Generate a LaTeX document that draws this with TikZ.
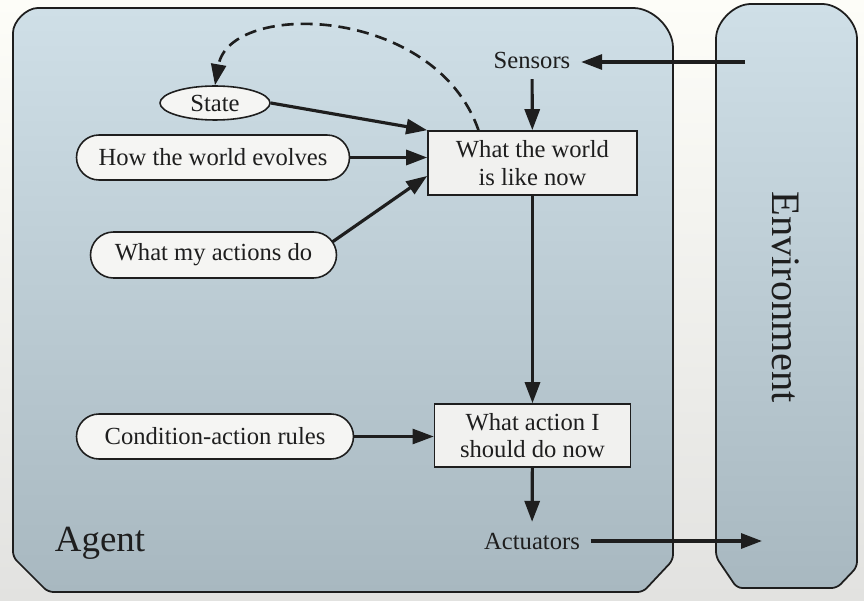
\documentclass[tikz,border=0pt]{standalone}
\usepackage{fontspec}
\setmainfont{Liberation Serif}
\usetikzlibrary{arrows.meta,shapes.geometric,shapes.misc}
\definecolor{bgtop}{HTML}{FDFDF8}
\definecolor{bgbottom}{HTML}{E2E2E0}
\definecolor{agenttop}{HTML}{CFDFE7}
\definecolor{agentmid}{HTML}{C3D3DC}
\definecolor{agentbottom}{HTML}{A8B8C0}
\definecolor{pillgray}{HTML}{F5F5F3}
\definecolor{boxgray}{HTML}{F1F1EF}
\definecolor{ink}{HTML}{1E1E1E}

\begin{document}
\begin{tikzpicture}[font=\fontsize{14}{15.5}\selectfont, text=ink,
    frame/.style={draw=ink, line width=1pt, rounded corners=3pt, top color=agenttop, middle color=agentmid, bottom color=agentbottom},
    model/.style={rounded rectangle, draw=ink, line width=0.9pt, fill=pillgray, inner sep=2pt},
    stage/.style={rectangle, draw=ink, line width=0.9pt, fill=boxgray, align=center, inner sep=2pt},
    port/.style={inner sep=6pt},
    link/.style={draw=ink, line width=1.8pt, -{Triangle[length=4.2mm,width=3mm]}}]
    \useasboundingbox (0,0) rectangle (17.28,12);
    \fill[top color=bgtop, bottom color=bgbottom] (0,0) rectangle (17.28,12);

    % agent and environment
    \draw[frame] (0.26,0.86) -- (0.96,0.16) -- (12.86,0.16) -- (13.46,0.8) -- (13.46,10.94)
        arc[start angle=0,end angle=90,radius=0.9] -- (0.86,11.84)
        arc[start angle=90,end angle=180,radius=0.6] -- cycle;
    \draw[frame] (14.32,0.86) -- (14.74,0.24) -- (16.74,0.24) -- (17.14,0.66) -- (17.14,11.12)
        arc[start angle=0,end angle=90,radius=0.8] -- (15.12,11.92)
        arc[start angle=90,end angle=180,radius=0.8] -- cycle;

    \node (agent) at (2.0,1.14) {\fontsize{21}{24}\selectfont Agent};
    \node[rotate=-90] (env) at (15.72,6.06) {\fontsize{23}{26}\selectfont Environment};

    \node[ellipse, draw=ink, line width=0.9pt, fill=pillgray, inner sep=1pt, minimum width=2.2cm, minimum height=0.68cm] (state) at (4.3,9.94) {State};
    \node[model, minimum width=5.6cm, minimum height=0.9cm] (evolves) at (4.26,8.85) {How the world evolves};
    \node[model, minimum width=5.06cm, minimum height=0.92cm] (actions) at (4.27,6.9) {What my actions do};
    \node[model, minimum width=5.68cm, minimum height=0.9cm] (rules) at (4.3,3.27) {Condition-action rules};

    \node[stage, minimum width=4.18cm, minimum height=1.28cm] (world) at (10.65,8.74) {What the world\\is like now};
    \node[stage, minimum width=3.92cm, minimum height=1.26cm] (action) at (10.65,3.29) {What action I\\should do now};

    \node[port] (sensors) at (10.64,10.8) {Sensors};
    \node[port] (actuators) at (10.64,1.18) {Actuators};
    \coordinate (envout) at (14.9,10.76);
    \coordinate (envin) at (15.24,1.18);

    \draw[link] (envout) -- (sensors.east |- envout);
    \draw[link] (sensors) -- (world);
    \draw[link] (state.east) -- (world.north west);
    \draw[link] (evolves.east) -- (evolves.east -| world.west);
    \draw[link] ([shift={(-0.1,0.26)}]actions.east) -- (world.187);
    \draw[link] (world) -- (action);
    \draw[link, line width=1.4pt] (rules.east) -- (rules.east -| action.west);
    \draw[link] (action) -- (actuators);
    \draw[link] (actuators.east |- envin) -- (envin);

    \draw[link, line width=1.5pt, dash pattern=on 0.24cm off 0.14cm] ([xshift=-1.08cm]world.north)
        .. controls (8.7,11.9) and (4.6,12.0) .. (state.north);
\end{tikzpicture}
\end{document}
